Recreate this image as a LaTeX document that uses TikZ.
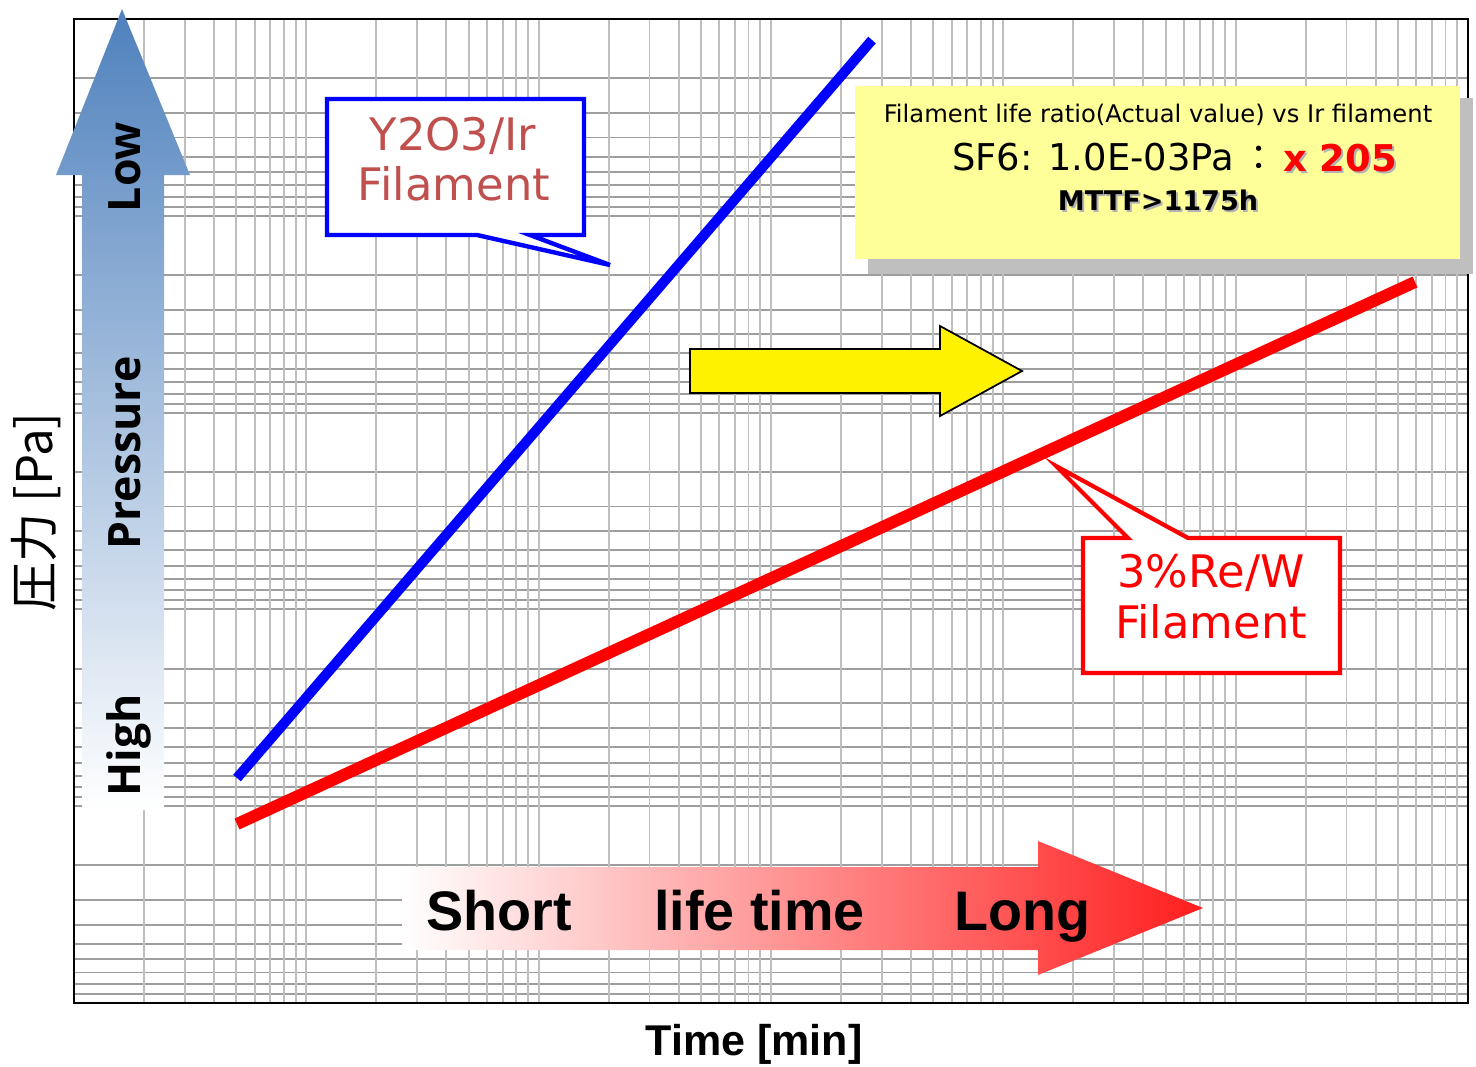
\documentclass[tikz,border=0pt]{standalone}
\usepackage{fontspec}
\setmainfont{DejaVu Sans}
\newfontfamily\opensans{Open Sans}
\newfontfamily\libsans{Liberation Sans}
\newfontfamily\jpfont{Noto Sans CJK JP}

\definecolor{gridv}{RGB}{191,191,191}
\definecolor{gridh}{RGB}{158,158,158}
\definecolor{presblue}{RGB}{79,129,189}
\definecolor{labelred}{RGB}{192,80,77}
\definecolor{notebg}{RGB}{255,255,153}
\definecolor{lifered}{RGB}{255,30,30}

\begin{document}
\begin{tikzpicture}[x=0.02cm, y=-0.02cm,
    vgrid/.style={gridv, line width=1.1pt},
    hgrid/.style={gridh, line width=1.1pt},
    axislabel/.style={font=\opensans\bfseries\fontsize{25.4}{30}\selectfont, rotate=90, anchor=base},
    lifelabel/.style={font=\libsans\bfseries\fontsize{31.7}{38}\selectfont, anchor=base west},
    calloutlabel/.style={font=\fontsize{25.5}{30}\selectfont, anchor=base}]

    \useasboundingbox (0,0) rectangle (1476,1066);

    %grid
    \foreach \d in {0,...,4}
      \foreach \k in {2,...,10}{
        \pgfmathsetmacro\yy{19+196.8*(\d+log10(\k))}
        \draw[hgrid] (74,\yy) -- (1468,\yy);
      }
    \foreach \d in {0,...,5}
      \foreach \k in {2,...,10}{
        \pgfmathsetmacro\xx{74+232.33*(\d+log10(\k))}
        \draw[vgrid] (\xx,19) -- (\xx,1003);
      }
    \draw[line width=1.4pt] (74,19) rectangle (1468,1003);

    %pressure arrow
    \shade[top color=presblue, bottom color=white] (82,810) -- (82,175) -- (56,175) -- (122,9) -- (190,175) -- (164,175) -- (164,810) -- cycle;
    \node[axislabel] (low) at (140,167) {Low};
    \node[axislabel] (pressure) at (140,453) {Pressure};
    \node[axislabel] (high) at (140,745) {High};

    %life time arrow
    \shade[left color=white, middle color=lifered!22!white, right color=lifered] (402,867) -- (1038,867) -- (1038,841) -- (1203,908) -- (1038,975) -- (1038,950) -- (402,950) -- cycle;
    \node[lifelabel] (short) at (420,930) {Short};
    \node[lifelabel] (lifetime) at (648,930) {life time};
    \node[lifelabel] (long) at (948,930) {Long};

    %axis titles
    \node[font=\libsans\bfseries\fontsize{24.5}{28}\selectfont, anchor=base] (timelabel) at (754,1055) {Time [min]};
    \node[font=\jpfont\fontsize{28}{32}\selectfont, rotate=90, anchor=base] (ylabel) at (52,512) {圧力 [Pa]};

    %lines
    \draw[blue, line width=5.7pt] (237,778) -- (872,40);
    \draw[red, line width=6.8pt] (237,824) -- (1415,282);

    %yellow arrow
    \draw[fill=yellow, line width=1pt] (690,349) -- (940,349) -- (940,326) -- (1022,371) -- (940,416) -- (940,393) -- (690,393) -- cycle;

    %callouts
    \draw[blue, line width=2.5pt, fill=white] (327,99) -- (584,99) -- (584,235) -- (530,235) -- (610,265) -- (477,235) -- (327,235) -- cycle;
    \node[calloutlabel, text=labelred] (y2o3) at (453,150) {Y2O3/Ir};
    \node[calloutlabel, text=labelred] (y2o3fil) at (454,200) {Filament};

    \draw[red, line width=2.4pt, fill=white] (1083,538) -- (1128,538) -- (1056,466) -- (1188,538) -- (1340,538) -- (1340,673) -- (1083,673) -- cycle;
    \node[calloutlabel, text=red] (rew) at (1211,587) {3\%Re/W};
    \node[calloutlabel, text=red] (rewfil) at (1211,638) {Filament};

    %note
    \fill[black!25] (868,98) rectangle (1473,274);
    \fill[notebg] (855,86) rectangle (1460,259);
    \node[font=\fontsize{13.8}{16}\selectfont, anchor=base] (ratio) at (1158,122) {Filament life ratio(Actual value) vs Ir filament};
    \node[font=\fontsize{21}{25}\selectfont, anchor=base west] (sf6) at (946,170) {SF6: 1.0E-03Pa};
    \node[font=\jpfont\fontsize{20}{24}\selectfont, anchor=base] (colon) at (1259,170) {：};
    \node[font=\bfseries\fontsize{21}{25}\selectfont, anchor=base west, text=black!30] (timesshadow) at (1279,173) {x 205};
    \node[font=\bfseries\fontsize{21}{25}\selectfont, anchor=base west, text=red] (times) at (1277,171) {x 205};
    \node[font=\bfseries\fontsize{15.4}{18}\selectfont, anchor=base, text=black!30] (mttfshadow) at (1160,212) {MTTF>1175h};
    \node[font=\bfseries\fontsize{15.4}{18}\selectfont, anchor=base] (mttf) at (1158,210) {MTTF>1175h};
\end{tikzpicture}
\end{document}
